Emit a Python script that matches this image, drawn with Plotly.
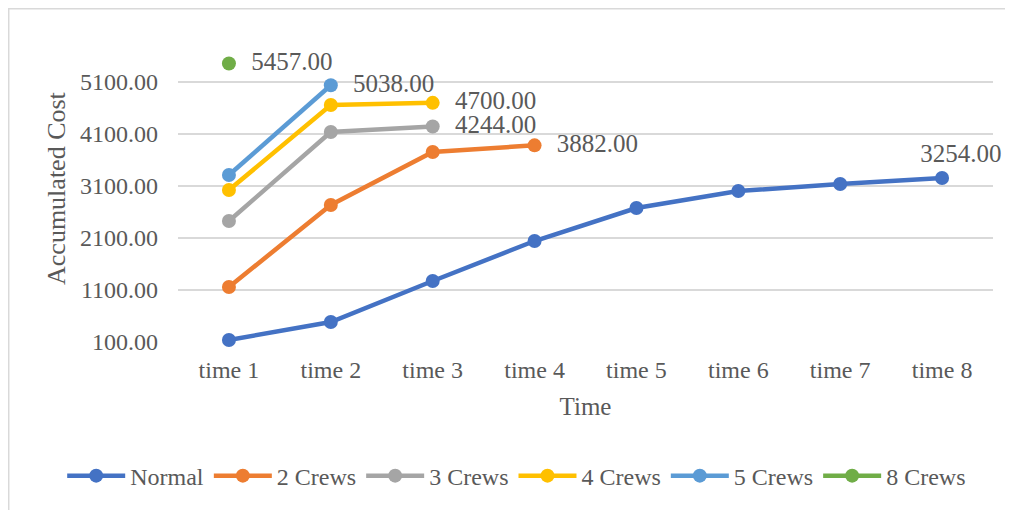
import plotly.graph_objects as go

times = ["time 1", "time 2", "time 3", "time 4", "time 5", "time 6", "time 7", "time 8"]

normal = [138, 485, 1273, 2042, 2677, 3004, 3138, 3254]
crews_2 = [1158, 2735, 3754, 3882]
crews_3 = [2427, 4138, 4244]
crews_4 = [3023, 4658, 4700]
crews_5 = [3311, 5038]
crews_8 = [5457]

series = [
    ("Normal", normal, "#4472C4", "top center"),
    ("2 Crews", crews_2, "#ED7D31", "middle right"),
    ("3 Crews", crews_3, "#A5A5A5", "middle right"),
    ("4 Crews", crews_4, "#FFC000", "middle right"),
    ("5 Crews", crews_5, "#5B9BD5", "middle right"),
    ("8 Crews", crews_8, "#70AD47", "middle right"),
]

font_family = "Liberation Serif, Times New Roman, serif"
grey = "#595959"
nbsp = "\u00a0"

fig = go.Figure()

for name, vals, color, pos in series:
    # label only the last point of each series, padded a little like Excel does
    pad = nbsp * 6 if pos == "top center" else nbsp * 2
    labels = [""] * (len(vals) - 1) + [pad + f"{vals[-1]:.2f}"]
    fig.add_trace(go.Scatter(
        x=times[:len(vals)],
        y=vals,
        mode="lines+markers+text",
        name=name,
        line=dict(color=color, width=4.5),
        marker=dict(color=color, size=14),
        text=labels,
        textposition=pos,
        textfont=dict(family=font_family, size=25, color=grey),
        cliponaxis=False,
    ))

# page body has an 8px margin, so the figure is a bit smaller than the window
fig.update_layout(
    width=1005,
    height=502,
    margin=dict(l=170, r=20, t=47, b=168),
    paper_bgcolor="white",
    plot_bgcolor="white",
    font=dict(family=font_family, size=24, color=grey),
    showlegend=True,
    legend=dict(
        orientation="h",
        x=-0.1421,
        xanchor="left",
        y=-0.467,
        yanchor="middle",
        font=dict(family=font_family, size=24, color=grey),
        itemwidth=58,
        tracegroupgap=0,
    ),
    xaxis=dict(
        title=dict(text="Time", font=dict(size=25, color=grey), standoff=15),
        categoryorder="array",
        categoryarray=times,
        range=[-0.5, 7.5],
        showgrid=False,
        showline=False,
        ticks="",
        ticklabelstandoff=11,
        tickfont=dict(size=24, color=grey),
    ),
    yaxis=dict(
        range=[100, 5620],
        tickvals=[100, 1100, 2100, 3100, 4100, 5100],
        tickformat=".2f",
        showgrid=True,
        gridcolor="#D9D9D9",
        gridwidth=1.5,
        zeroline=False,
        showline=False,
        ticks="",
        ticklabelstandoff=19,
        tickfont=dict(size=24, color=grey),
    ),
    annotations=[dict(
        text="Accumulated Cost", xref="paper", yref="paper",
        x=-0.1485, y=0.5366, xanchor="center", yanchor="middle",
        textangle=-90, showarrow=False,
        font=dict(family=font_family, size=26, color=grey),
    )],
    shapes=[dict(
        type="rect", xref="paper", yref="paper",
        x0=-0.208, x1=1.0239, y0=-0.62, y1=1.162,
        line=dict(color="#D9D9D9", width=2),
        layer="below",
    )],
)

fig.write_html("out.html")
